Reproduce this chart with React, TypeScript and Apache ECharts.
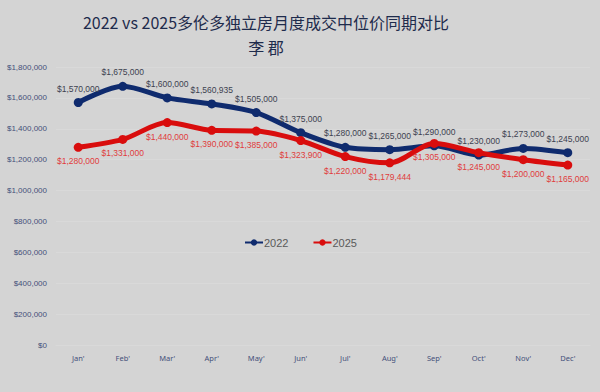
import React, { useEffect, useRef } from "react";
import * as echarts from "echarts";

const months = ["Jan'", "Feb'", "Mar'", "Apr'", "May'", "Jun'", "Jul'", "Aug'", "Sep'", "Oct'", "Nov'", "Dec'"];
const values2022 = [1570000, 1675000, 1600000, 1560935, 1505000, 1375000, 1280000, 1265000, 1290000, 1230000, 1273000, 1245000];
const values2025 = [1280000, 1331000, 1440000, 1390000, 1385000, 1323900, 1220000, 1179444, 1305000, 1245000, 1200000, 1165000];
const titleText = "2022 vs 2025多伦多独立房月度成交中位价同期对比";
const subtitleText = "李 郡";

const fmt = (v: number) => "$" + Math.round(v).toLocaleString("en-US");

export default function App() {
  const ref = useRef<HTMLDivElement>(null);
  useEffect(() => {
    const chart = echarts.init(ref.current!, null, { renderer: "svg" });
    chart.setOption({
      animation: false,
      backgroundColor: "#d4d4d4",
      title: [
        {
          text: titleText,
          left: 261,
          top: 9,
          textAlign: "center",
          textStyle: { fontFamily: "Noto Sans CJK SC", fontSize: 16, fontWeight: "normal", color: "#1e2b4c" },
        },
        {
          text: subtitleText,
          left: 261,
          top: 34,
          textAlign: "center",
          textStyle: { fontFamily: "Noto Sans CJK SC", fontSize: 16, fontWeight: "normal", color: "#1e2b4c" },
        },
      ],
      legend: {
        data: ["2022", "2025"],
        left: 239,
        top: 232,
        itemWidth: 18,
        itemHeight: 8,
        itemGap: 24,
        textStyle: { fontFamily: "Liberation Sans", fontSize: 11, color: "#5a5a5a", padding: [0, 0, 0, -4] },
      },
      grid: { left: 56, right: 10, top: 67, bottom: 47 },
      xAxis: {
        type: "category",
        data: months,
        boundaryGap: true,
        axisLine: { show: true, lineStyle: { color: "#d9d9d9" } },
        axisTick: { show: false },
        axisLabel: { margin: 9, fontFamily: "Noto Sans", fontSize: 7.5, color: "#44507a" },
      },
      yAxis: {
        type: "value",
        min: 0,
        max: 1800000,
        interval: 200000,
        axisLine: { show: false },
        axisTick: { show: false },
        splitLine: { lineStyle: { color: "#d9d9d9", width: 1 } },
        axisLabel: {
          margin: 9,
          fontFamily: "Liberation Sans",
          fontSize: 8,
          color: "#44507a",
          formatter: (v: number) => fmt(v),
        },
      },
      series: [
        {
          name: "2022",
          type: "line",
          data: values2022,
          smooth: 0.3,
          symbol: "circle",
          symbolSize: 9,
          lineStyle: { width: 5, color: "#0f2b6e" },
          itemStyle: { color: "#0f2b6e" },
          label: {
            show: true,
            position: "top",
            distance: 5,
            fontFamily: "Liberation Sans",
            fontSize: 8.5,
            color: "#3d4250",
            formatter: (p: any) => fmt(p.value),
          },
          z: 2,
        },
        {
          name: "2025",
          type: "line",
          data: values2025,
          smooth: 0.3,
          symbol: "circle",
          symbolSize: 9,
          lineStyle: { width: 5, color: "#d90d0d" },
          itemStyle: { color: "#d90d0d" },
          label: {
            show: true,
            position: "bottom",
            distance: 5,
            fontFamily: "Liberation Sans",
            fontSize: 8.5,
            color: "#e03c3c",
            formatter: (p: any) => fmt(p.value),
          },
          z: 3,
        },
      ],
    });
    return () => chart.dispose();
  }, []);
  return <div ref={ref} style={{ width: 600, height: 392, position: "fixed", left: 0, top: 0 }} />;
}
